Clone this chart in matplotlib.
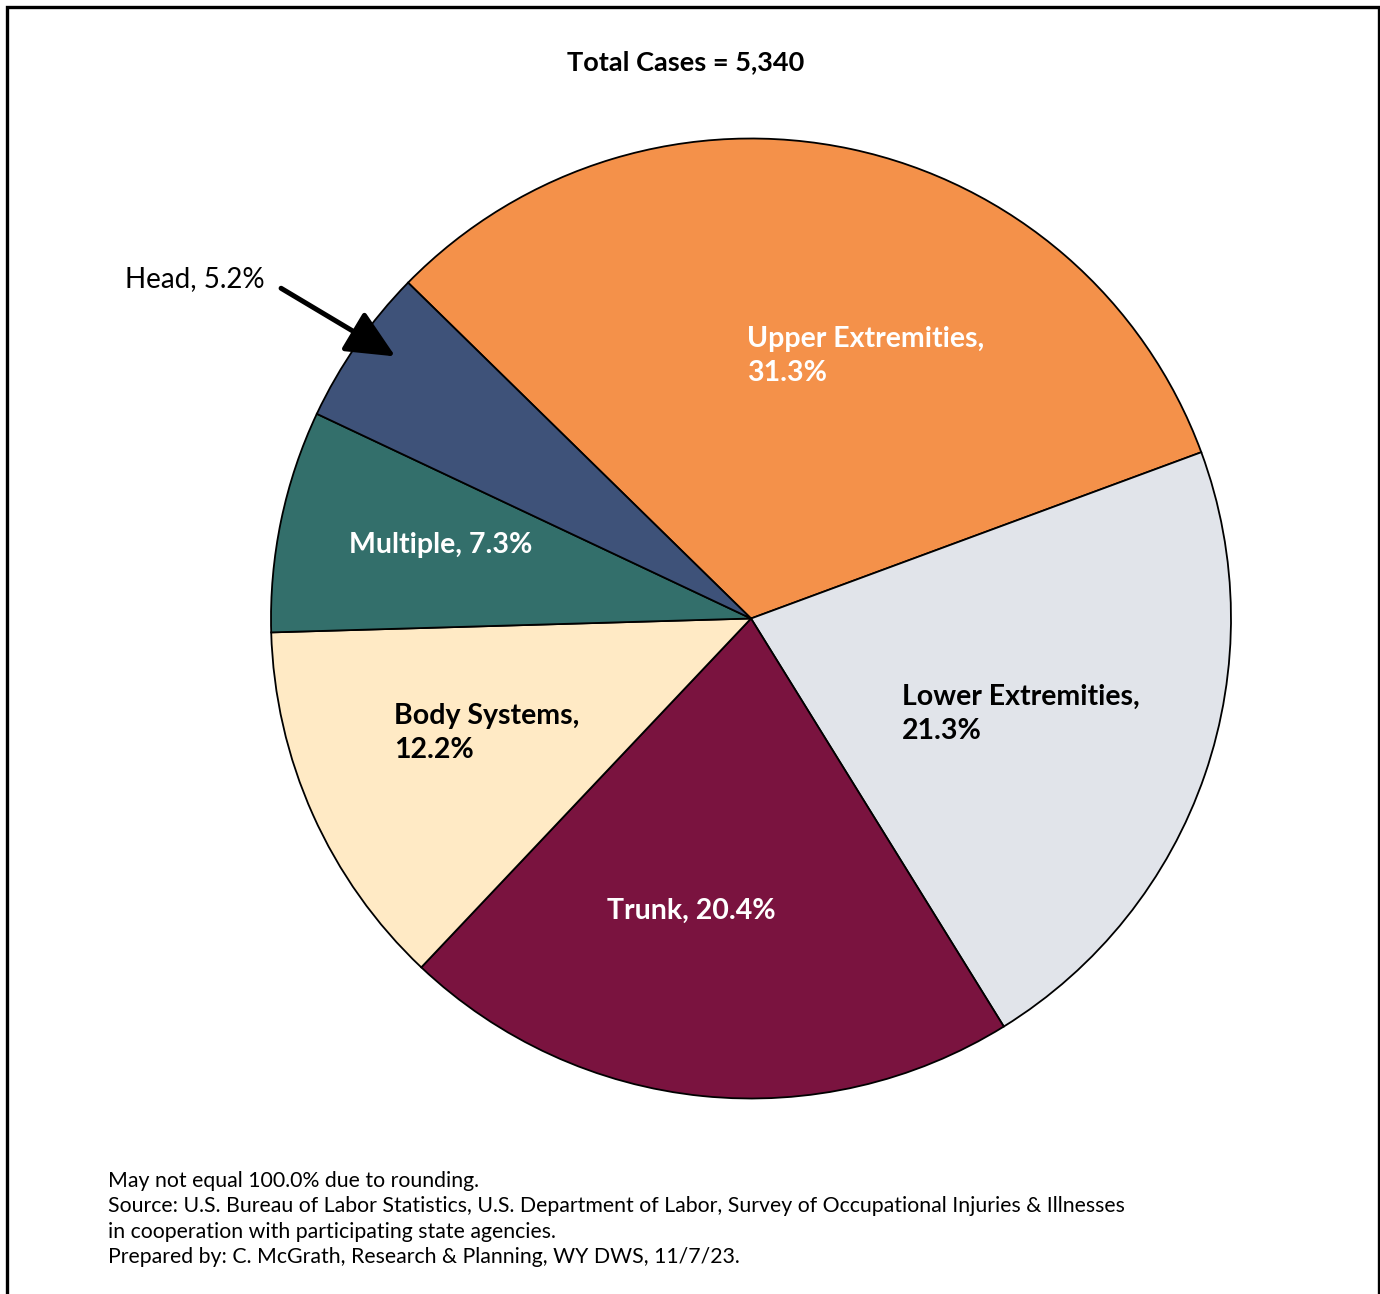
import matplotlib
matplotlib.use('Agg')
import matplotlib.pyplot as plt
from matplotlib.patches import Rectangle

plt.rcParams['font.family'] = ['Lato', 'DejaVu Sans']

# data
parts = ['Upper Extremities', 'Lower Extremities', 'Trunk', 'Body Systems', 'Multiple', 'Head']
pct = [31.3, 21.3, 20.4, 12.2, 7.3, 5.2]
colors = ['#F4914A', '#E1E4EA', '#7A133F', '#FFEAC5', '#336F6B', '#3E5279']
label_text = ['Upper Extremities,\n31.3%', 'Lower Extremities,\n21.3%', 'Trunk, 20.4%',
              'Body Systems,\n12.2%', 'Multiple, 7.3%', 'Head, 5.2%']
total_cases = '5,340'

W, H = 1380, 1294
fig = plt.figure(figsize=(W / 100, H / 100), dpi=100)

# pie axes: center (751, 618.5) px, radius 480 px
cx, cy, r = 751, 618.5, 480
ax = fig.add_axes([(cx - r) / W, (H - cy - r) / H, 2 * r / W, 2 * r / H])
ax.pie(pct, colors=colors, startangle=135.6, counterclock=False, radius=1,
       wedgeprops=dict(edgecolor='black', linewidth=1.3))
ax.set_xlim(-1, 1)
ax.set_ylim(-1, 1)
ax.set_aspect('equal')
ax.axis('off')

# label positions (left edge, vertical centre) in pie units
lab_pos = [(-0.008, 0.547), (0.315, -0.198), (-0.299, -0.609),
           (-0.744, -0.239), (-0.838, 0.154)]
lab_col = ['white', 'black', 'white', 'black', 'white']
for i in range(5):
    ax.text(lab_pos[i][0], lab_pos[i][1], label_text[i], color=lab_col[i],
            fontsize=20.5, fontweight='bold', ha='left', va='center',
            linespacing=1.38)

# head label with arrow
ax.text(-1.304, 0.708, label_text[5], fontsize=20, ha='left', va='center',
        color='black')
ax.annotate('', xy=(-0.741, 0.546), xytext=(-0.979, 0.688),
            arrowprops=dict(arrowstyle='-|>,head_length=3.0,head_width=1.4',
                            color='black', lw=3.6, shrinkA=0, shrinkB=0),
            annotation_clip=False)

# title
fig.text(686 / W, 1 - 62 / H, 'Total Cases = ' + total_cases, fontsize=19.5,
         fontweight='bold', ha='center', va='center')

# footnote
notes = ['May not equal 100.0% due to rounding.',
         'Source: U.S. Bureau of Labor Statistics, U.S. Department of Labor, Survey of Occupational Injuries & Illnesses',
         'in cooperation with participating state agencies.',
         'Prepared by: C. McGrath, Research & Planning, WY DWS, 11/7/23.']
for k, line in enumerate(notes):
    fig.text(108 / W, 1 - (1181 + 25.3 * k) / H, line, fontsize=15.3,
             ha='left', va='center')

# outer frame
fig.patches.append(Rectangle((7 / W, -0.05), (1379 - 7) / W, 1.05 - 7 / H,
                             transform=fig.transFigure, fill=False,
                             edgecolor='black', linewidth=2.4))

fig.savefig('out.png', dpi=100)
